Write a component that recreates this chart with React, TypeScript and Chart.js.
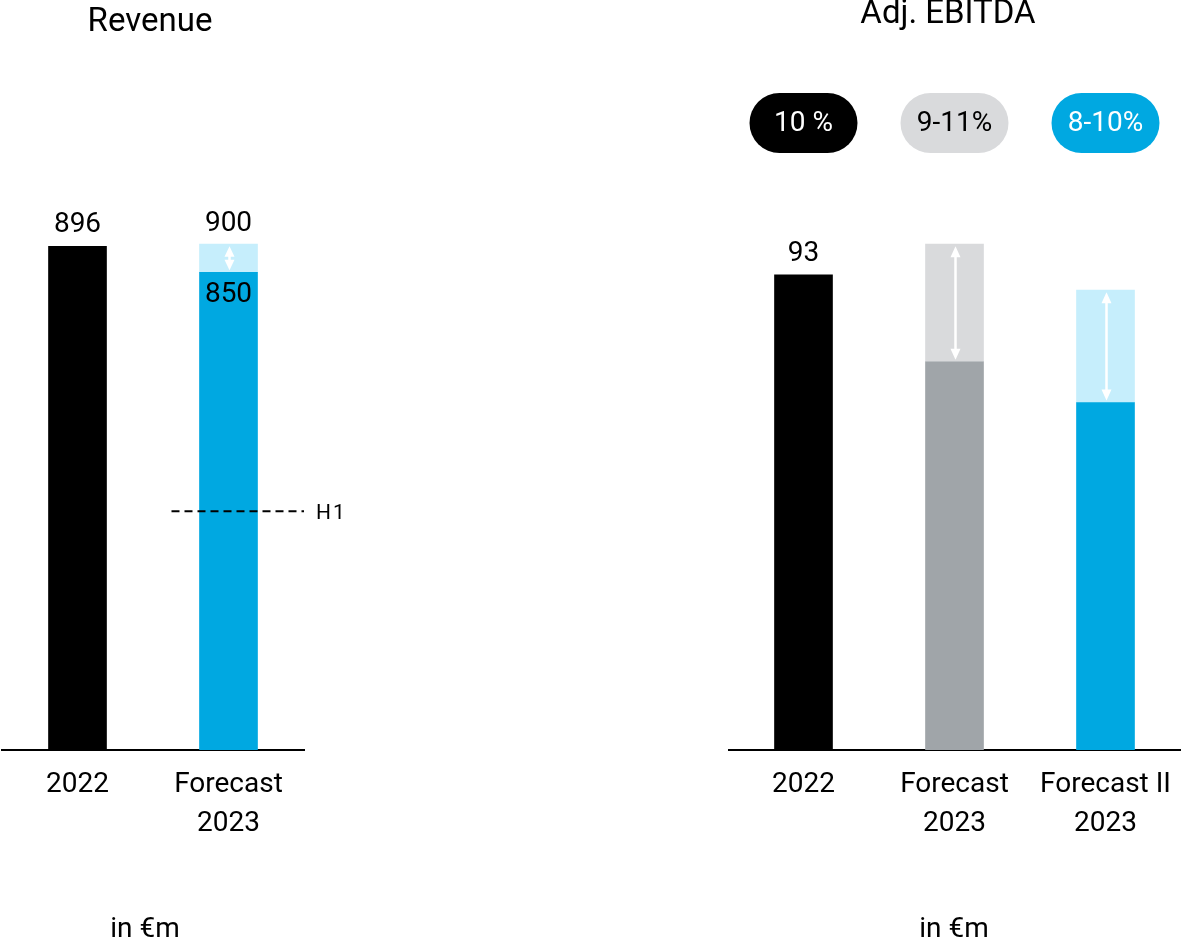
import React, { useEffect, useRef } from "react";
import { Chart, registerables } from "chart.js";

Chart.register(...registerables);

const FONT = "Roboto, 'DejaVu Sans', sans-serif";

// ---- Revenue data (in €m) ----
const revenueCategories = [["2022"], ["Forecast", "2023"]];
const revenueLow = [896, 850];
const revenueHigh: (number | null)[] = [null, 900];
const revenueH1 = 425;

// ---- Adj. EBITDA data (in €m) ----
const ebitdaCategories = [["2022"], ["Forecast", "2023"], ["Forecast II", "2023"]];
const ebitdaLow = [93, 76, 68];
const ebitdaHigh: (number | null)[] = [null, 99, 90];
const ebitdaMargins = ["10 %", "9-11%", "8-10%"];

const BLACK = "#000000";
const BLUE = "#00a8e1";
const LIGHT_BLUE = "#c6eefc";
const GRAY = "#a0a5a9";
const LIGHT_GRAY = "#d9dadc";

type Cfg = {
  title: string;
  titleX: number;
  titleBaseline: number;
  unitX: number;
  categories: string[][];
  low: number[];
  high: (number | null)[];
  baseColors: string[];
  rangeColors: string[];
  max: number;
  rangeLabels: boolean;
  h1?: number;
  h1Index?: number;
  pills?: string[];
  pillColors?: string[];
  pillTextColors?: string[];
  left: number;
  width: number;
  padLeft: number;
  padRight: number;
};

function drawDoubleArrow(ctx: CanvasRenderingContext2D, x: number, y1: number, y2: number) {
  const len = y2 - y1;
  const head = Math.min(11, len / 2.3);
  const hw = 5;
  ctx.save();
  ctx.fillStyle = "#ffffff";
  ctx.strokeStyle = "#ffffff";
  ctx.lineWidth = 2.5;
  ctx.beginPath();
  ctx.moveTo(x, y1 + head - 1);
  ctx.lineTo(x, y2 - head + 1);
  ctx.stroke();
  ctx.beginPath();
  ctx.moveTo(x, y1);
  ctx.lineTo(x - hw, y1 + head);
  ctx.lineTo(x + hw, y1 + head);
  ctx.closePath();
  ctx.fill();
  ctx.beginPath();
  ctx.moveTo(x, y2);
  ctx.lineTo(x - hw, y2 - head);
  ctx.lineTo(x + hw, y2 - head);
  ctx.closePath();
  ctx.fill();
  ctx.restore();
}

function roundRect(ctx: CanvasRenderingContext2D, x: number, y: number, w: number, h: number, r: number) {
  ctx.beginPath();
  ctx.moveTo(x + r, y);
  ctx.lineTo(x + w - r, y);
  ctx.arc(x + w - r, y + r, r, -Math.PI / 2, Math.PI / 2);
  ctx.lineTo(x + r, y + h);
  ctx.arc(x + r, y + r, r, Math.PI / 2, (3 * Math.PI) / 2);
  ctx.closePath();
}

const CANVAS_H = 942;

function BarPanel({ cfg }: { cfg: Cfg }) {
  const ref = useRef<HTMLCanvasElement | null>(null);

  useEffect(() => {
    if (!ref.current) return;
    const annot = {
      id: "annot",
      afterDatasetsDraw(chart: any) {
        const ctx: CanvasRenderingContext2D = chart.ctx;
        const xs = chart.scales.x;
        const ys = chart.scales.y;
        const area = chart.chartArea;
        ctx.save();
        ctx.font = `28px ${FONT}`;
        ctx.fillStyle = "#000";
        ctx.textAlign = "center";
        ctx.textBaseline = "alphabetic";
        cfg.low.forEach((lo, i) => {
          const cx = xs.getPixelForValue(i);
          const hi = cfg.high[i];
          if (hi == null) {
            ctx.fillText(String(lo), cx, ys.getPixelForValue(lo) - 14);
          } else {
            const yt = ys.getPixelForValue(hi);
            const yb = ys.getPixelForValue(lo);
            drawDoubleArrow(ctx, cx + 1, yt + 2, yb - 2);
            if (cfg.rangeLabels) {
              ctx.fillStyle = "#000";
              ctx.fillText(String(hi), cx, yt - 13);
              ctx.fillText(String(lo), cx, yb + 30);
            }
          }
        });
        if (cfg.h1 != null && cfg.h1Index != null) {
          const yy = ys.getPixelForValue(cfg.h1);
          const cx = xs.getPixelForValue(cfg.h1Index);
          ctx.save();
          ctx.strokeStyle = "#000";
          ctx.lineWidth = 2;
          ctx.setLineDash([8, 5]);
          ctx.beginPath();
          ctx.moveTo(cx - 57, yy);
          ctx.lineTo(area.right, yy);
          ctx.stroke();
          ctx.restore();
          ctx.font = `21px ${FONT}`;
          ctx.textAlign = "left";
          ctx.textBaseline = "middle";
          ctx.fillStyle = "#000";
          (ctx as any).letterSpacing = "2px";
          ctx.fillText("H1", area.right + 12, yy + 3);
          (ctx as any).letterSpacing = "0px";
        }
        ctx.restore();
      },
      afterDraw(chart: any) {
        const ctx: CanvasRenderingContext2D = chart.ctx;
        const xs = chart.scales.x;
        const area = chart.chartArea;
        ctx.save();
        ctx.fillStyle = "#000";
        ctx.textAlign = "center";
        ctx.textBaseline = "alphabetic";
        ctx.font = `33px ${FONT}`;
        ctx.fillText(cfg.title, cfg.titleX, cfg.titleBaseline);
        ctx.font = `28px ${FONT}`;
        ctx.fillText("in €m", cfg.unitX, 937);
        if (cfg.pills) {
          cfg.pills.forEach((p, i) => {
            const cx = xs.getPixelForValue(i);
            const w = 108;
            const h = 60;
            const cy = area.top - 65;
            roundRect(ctx, cx - w / 2, cy - h / 2, w, h, h / 2);
            ctx.fillStyle = cfg.pillColors ? cfg.pillColors[i] : "#000";
            ctx.fill();
            ctx.fillStyle = cfg.pillTextColors ? cfg.pillTextColors[i] : "#fff";
            ctx.font = `28px ${FONT}`;
            ctx.textBaseline = "middle";
            ctx.fillText(p, cx, cy + 1);
          });
        }
        ctx.restore();
      },
    };

    const chart = new Chart(ref.current, {
      type: "bar",
      data: {
        labels: cfg.categories,
        datasets: [
          {
            data: cfg.low,
            backgroundColor: cfg.baseColors,
            barThickness: 58,
            borderWidth: 0,
          },
          {
            data: cfg.high.map((h, i) => (h == null ? null : [cfg.low[i], h])) as any,
            backgroundColor: cfg.rangeColors,
            barThickness: 58,
            borderWidth: 0,
          },
        ],
      },
      options: {
        animation: false,
        responsive: false,
        devicePixelRatio: 1,
        layout: { padding: { top: 188, left: cfg.padLeft, right: cfg.padRight, bottom: 0 } },
        plugins: { legend: { display: false }, tooltip: { enabled: false } },
        scales: {
          x: {
            stacked: true,
            grid: { display: false, drawTicks: false },
            border: { display: true, color: "#000", width: 2 },
            ticks: {
              color: "#000",
              font: { family: FONT, size: 28, lineHeight: 1.4 },
              padding: 15,
              maxRotation: 0,
              autoSkip: false,
            },
            afterFit: (scale: any) => {
              scale.height = CANVAS_H - 750;
              scale.paddingLeft = 0;
              scale.paddingRight = 0;
            },
          },
          y: {
            display: false,
            stacked: false,
            min: 0,
            max: cfg.max,
          },
        },
      },
      plugins: [annot],
    });
    return () => chart.destroy();
  }, [cfg]);

  return (
    <canvas
      ref={ref}
      width={cfg.width}
      height={CANVAS_H}
      style={{ position: "absolute", left: cfg.left, top: 0, width: cfg.width, height: CANVAS_H }}
    />
  );
}

const revenueCfg: Cfg = {
  title: "Revenue",
  titleX: 150,
  titleBaseline: 31,
  unitX: 145,
  categories: revenueCategories,
  low: revenueLow,
  high: revenueHigh,
  baseColors: [BLACK, BLUE],
  rangeColors: [LIGHT_BLUE, LIGHT_BLUE],
  max: 1000,
  rangeLabels: true,
  h1: revenueH1,
  h1Index: 1,
  left: 0,
  width: 380,
  padLeft: 2,
  padRight: 76,
};

const ebitdaCfg: Cfg = {
  title: "Adj. EBITDA",
  titleX: 220,
  titleBaseline: 23,
  unitX: 226,
  categories: ebitdaCategories,
  low: ebitdaLow,
  high: ebitdaHigh,
  baseColors: [BLACK, GRAY, BLUE],
  rangeColors: [LIGHT_GRAY, LIGHT_GRAY, LIGHT_BLUE],
  max: 110,
  rangeLabels: false,
  pills: ebitdaMargins,
  pillColors: [BLACK, LIGHT_GRAY, BLUE],
  pillTextColors: ["#ffffff", "#000000", "#ffffff"],
  left: 728,
  width: 453,
  padLeft: 0,
  padRight: 0,
};

export default function App() {
  return (
    <div
      style={{
        position: "fixed",
        left: 0,
        top: 0,
        width: 1181,
        height: 942,
        background: "#ffffff",
        overflow: "hidden",
      }}
    >
      <BarPanel cfg={revenueCfg} />
      <BarPanel cfg={ebitdaCfg} />
    </div>
  );
}
